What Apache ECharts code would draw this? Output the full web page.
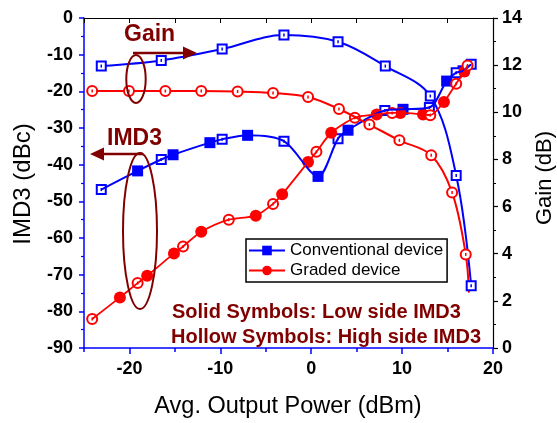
<!DOCTYPE html>
<html>
<head>
<meta charset="utf-8">
<script src="https://cdn.jsdelivr.net/npm/echarts@6/dist/echarts.min.js"></script>
<style>
html,body{margin:0;padding:0;background:#fff;}
#chart{width:557px;height:423px;}
</style>
</head>
<body>
<div id="chart"></div>
<script>
// ---- data ----
const xTickLabels = [-20, -10, 0, 10, 20];
const xMinorTicks = [-25, -15, -5, 5, 15];

// Conventional device gain (hollow squares, right axis)
const convGainX = [-23.1, -16.5, -9.8, -3.0, 2.95, 8.15, 13.1, 15.95, 17.6];
const convGainY = [11.96, 12.2, 12.68, 13.28, 12.99, 11.96, 10.69, 7.32, 2.64];

// Graded device gain (hollow circles, right axis)
const gradGainX = [-24.1, -20.05, -16.05, -12.1, -8.1, -4.2, -0.35, 3.05, 6.4, 9.7, 13.2, 15.5, 17.0, 17.35];
const gradGainY = [10.9, 10.9, 10.9, 10.9, 10.88, 10.82, 10.65, 10.14, 9.48, 8.81, 8.18, 6.6, 3.97, 2.35];

// Conventional device IMD3: low side (solid) and high side (hollow)
const convLowX = [-19.1, -15.2, -11.15, -7.0, 0.75, 4.05, 10.1, 14.9, 16.7];
const convLowY = [-41.7, -37.3, -34.0, -32.0, -43.2, -30.6, -24.9, -17.2, -14.4];
const convHighX = [-23.1, -16.5, -9.8, -3.0, 2.95, 8.1, 13.0, 15.95, 17.6];
const convHighY = [-46.8, -38.6, -33.1, -33.6, -32.9, -25.2, -24.4, -14.9, -12.6];

// Graded device IMD3: low side (solid) and high side (hollow)
const gradLowX = [-21.05, -18.05, -15.1, -12.1, -6.1, -3.2, -0.35, 2.2, 7.2, 9.8, 12.3, 14.6, 16.85];
const gradLowY = [-76.2, -70.3, -64.2, -58.3, -53.9, -48.1, -39.3, -31.3, -26.3, -25.9, -26.3, -22.9, -14.6];
const gradHighX = [-24.1, -19.1, -14.1, -9.07, -4.2, 0.57, 4.8, 8.9, 13.1, 15.95, 17.2];
const gradHighY = [-82.1, -72.3, -62.3, -55.0, -50.7, -36.5, -27.2, -25.9, -26.5, -17.9, -12.95];

// ---- helpers ----
const zip = (xs, ys) => xs.map((x, i) => [x, ys[i]]);
const merged = (ax, ay, bx, by) => zip(ax, ay).concat(zip(bx, by)).sort((a, b) => a[0] - b[0]);

const BLUE = '#0000ff', RED = '#ff0000', DARK = '#800000';
const FONT = "'Liberation Sans', Arial, Helvetica, sans-serif";

const chart = echarts.init(document.getElementById('chart'), null, {renderer: 'canvas'});

const gradGainData = zip(gradGainX, gradGainY).map((p, i, arr) =>
  i === arr.length - 1 ? {value: p, symbol: 'none'} : p);

// tiny centre mark inside hollow symbols
const dot = (name, yIdx, data, color, z) => ({
  name, type: 'scatter', yAxisIndex: yIdx, data, symbol: 'rect', symbolSize: [1.5, 3],
  itemStyle: {color, opacity: 1}, z: z, silent: true
});

const option = {
  backgroundColor: '#fff',
  animation: false,
  textStyle: {fontFamily: FONT},
  grid: {left: 84, right: 64, top: 18, bottom: 75, outerBoundsMode: 'none', containLabel: false},
  xAxis: [
    {type: 'value', position: 'bottom', min: -25, max: 20,
     axisLine: {show: true, onZero: false, lineStyle: {color: BLUE, width: 1.5}},
     axisTick: {show: true, inside: false, length: 6, customValues: xTickLabels, lineStyle: {color: BLUE, width: 1.5}},
     axisLabel: {show: true, customValues: xTickLabels, margin: 12, color: '#000', fontSize: 18, fontWeight: 'bold', fontFamily: FONT},
     splitLine: {show: false}},
    {type: 'value', position: 'bottom', min: -25, max: 20,
     axisLine: {show: false, onZero: false},
     axisTick: {show: true, inside: false, length: 4, customValues: xMinorTicks, lineStyle: {color: BLUE, width: 1.5}},
     axisLabel: {show: false},
     splitLine: {show: false}},
    {type: 'value', position: 'top', min: -25, max: 20,
     axisLine: {show: true, onZero: false, lineStyle: {color: '#000', width: 1.2}},
     axisTick: {show: true, inside: true, length: 5, customValues: xTickLabels.concat(xMinorTicks), lineStyle: {color: '#000', width: 1}},
     axisLabel: {show: false},
     splitLine: {show: false}}
  ],
  yAxis: [
    {type: 'value', position: 'left', min: -90, max: 0, interval: 10,
     axisLine: {show: true, onZero: false, lineStyle: {color: BLUE, width: 1.5}},
     axisTick: {show: true, inside: false, length: 5, lineStyle: {color: BLUE, width: 1.5}},
     minorTick: {show: true, splitNumber: 2, length: 3, lineStyle: {color: BLUE, width: 1.2}},
     axisLabel: {margin: 11, color: '#000', fontSize: 18, fontWeight: 'bold', fontFamily: FONT},
     splitLine: {show: false}},
    {type: 'value', position: 'right', min: 0, max: 14, interval: 2,
     axisLine: {show: true, onZero: false, lineStyle: {color: '#000', width: 1.2}},
     axisTick: {show: true, inside: false, length: 5, lineStyle: {color: '#000', width: 1.2}},
     minorTick: {show: true, splitNumber: 2, length: 3, lineStyle: {color: '#000', width: 1}},
     axisLabel: {margin: 9, color: '#000', fontSize: 18, fontWeight: 'bold', fontFamily: FONT},
     splitLine: {show: false}}
  ],
  legend: {
    show: true, orient: 'vertical', left: 246, top: 239,
    padding: [3, 4, 3, 2], itemGap: 3, itemWidth: 36, itemHeight: 12,
    borderColor: '#000', borderWidth: 1.5, backgroundColor: '#fff',
    textStyle: {fontSize: 17, color: '#000', fontFamily: FONT},
    data: ['Conventional device', 'Graded device']
  },
  series: [
    {name: 'Conventional device', type: 'line', data: [], symbol: 'rect', symbolSize: 11,
     itemStyle: {color: BLUE}, lineStyle: {color: BLUE, width: 2}},
    {name: 'Graded device', type: 'line', data: [], symbol: 'circle', symbolSize: 13,
     itemStyle: {color: RED}, lineStyle: {color: RED, width: 2}},

    {name: 'convGain', type: 'line', yAxisIndex: 1, data: zip(convGainX, convGainY), smooth: 0.35,
     symbol: 'rect', symbolSize: 9, lineStyle: {color: BLUE, width: 2},
     itemStyle: {color: '#fff', borderColor: BLUE, borderWidth: 2, opacity: 1}},
    dot('convGainDot', 1, zip(convGainX, convGainY), BLUE, 3),
    {name: 'convImd', type: 'line', yAxisIndex: 0, data: merged(convLowX, convLowY, convHighX, convHighY),
     smooth: 0.3, symbol: 'none', lineStyle: {color: BLUE, width: 2}},
    {name: 'convLow', type: 'scatter', yAxisIndex: 0, data: zip(convLowX, convLowY),
     symbol: 'rect', symbolSize: 11, itemStyle: {color: BLUE, opacity: 1}},
    {name: 'convHigh', type: 'scatter', yAxisIndex: 0, data: zip(convHighX, convHighY),
     symbol: 'rect', symbolSize: 9, itemStyle: {color: '#fff', borderColor: BLUE, borderWidth: 2, opacity: 1}},
    dot('convHighDot', 0, zip(convHighX, convHighY), BLUE, 2),

    {name: 'gradGain', type: 'line', yAxisIndex: 1, data: gradGainData, smooth: 0.35,
     symbol: 'circle', symbolSize: 10, lineStyle: {color: RED, width: 2},
     itemStyle: {color: '#fff', borderColor: RED, borderWidth: 2, opacity: 1}},
    dot('gradGainDot', 1, zip(gradGainX, gradGainY).slice(0, -1), RED, 3),
    {name: 'gradImd', type: 'line', yAxisIndex: 0, data: merged(gradLowX, gradLowY, gradHighX, gradHighY),
     smooth: 0.25, symbol: 'none', lineStyle: {color: RED, width: 1.8}},
    {name: 'gradLow', type: 'scatter', yAxisIndex: 0, data: zip(gradLowX, gradLowY),
     symbol: 'circle', symbolSize: 12, itemStyle: {color: RED, opacity: 1}},
    {name: 'gradHigh', type: 'scatter', yAxisIndex: 0, data: zip(gradHighX, gradHighY),
     symbol: 'circle', symbolSize: 10, itemStyle: {color: '#fff', borderColor: RED, borderWidth: 2, opacity: 1}},
    dot('gradHighDot', 0, zip(gradHighX, gradHighY), RED, 2)
  ],
  graphic: [
    // axis titles
    {type: 'text', x: 23, y: 184, rotation: Math.PI / 2,
     style: {text: 'IMD3 (dBc)', font: "24px " + FONT, fill: '#000', textAlign: 'center', textVerticalAlign: 'middle'}},
    {type: 'text', x: 545, y: 178, rotation: Math.PI / 2,
     style: {text: 'Gain (dB)', font: "22px " + FONT, fill: '#000', textAlign: 'center', textVerticalAlign: 'middle'}},
    {type: 'text', x: 288, y: 407,
     style: {text: 'Avg. Output Power (dBm)', font: "23.5px " + FONT, fill: '#000', textAlign: 'center', textVerticalAlign: 'middle'}},
    // annotations
    {type: 'text', x: 124, y: 35, z: 100,
     style: {text: 'Gain', font: "bold 23px " + FONT, fill: DARK, textAlign: 'left', textVerticalAlign: 'middle'}},
    {type: 'line', z: 100, shape: {x1: 133, y1: 53, x2: 186, y2: 53}, style: {stroke: DARK, lineWidth: 2.5}},
    {type: 'polygon', z: 100, shape: {points: [[197, 53], [183, 46.5], [183, 59.5]]}, style: {fill: DARK}},
    {type: 'ellipse', z: 100, shape: {cx: 136, cy: 79, rx: 9.7, ry: 24}, style: {fill: null, stroke: DARK, lineWidth: 2}},

    {type: 'text', x: 107, y: 139, z: 100,
     style: {text: 'IMD3', font: "bold 23px " + FONT, fill: DARK, textAlign: 'left', textVerticalAlign: 'middle'}},
    {type: 'line', z: 100, shape: {x1: 100, y1: 154, x2: 143, y2: 154}, style: {stroke: DARK, lineWidth: 2.5}},
    {type: 'polygon', z: 100, shape: {points: [[90, 154], [104, 147.5], [104, 160.5]]}, style: {fill: DARK}},
    {type: 'ellipse', z: 100, shape: {cx: 140, cy: 231, rx: 17, ry: 78}, style: {fill: null, stroke: DARK, lineWidth: 2}},

    {type: 'text', x: 172, y: 312, z: 100,
     style: {text: 'Solid Symbols: Low side IMD3', font: "bold 20px " + FONT, fill: DARK, textAlign: 'left', textVerticalAlign: 'middle'}},
    {type: 'text', x: 171, y: 337, z: 100,
     style: {text: 'Hollow Symbols: High side IMD3', font: "bold 20px " + FONT, fill: DARK, textAlign: 'left', textVerticalAlign: 'middle'}}
  ]
};
chart.setOption(option);
</script>
</body>
</html>
